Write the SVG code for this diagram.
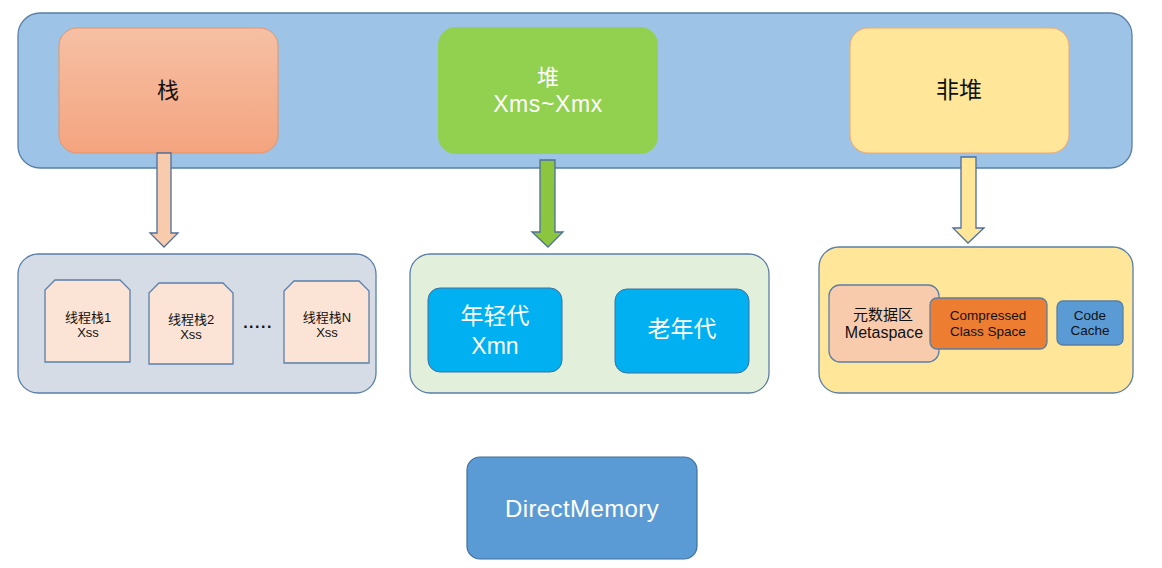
<svg xmlns="http://www.w3.org/2000/svg" width="1162" height="568" viewBox="0 0 1162 568">
<style>
text{font-family:"Liberation Sans","Noto Sans CJK SC",sans-serif;text-anchor:middle;dominant-baseline:central}
.cont{stroke:#5a7fa8;stroke-width:1.3}
.thr{fill:#fbe4d5;stroke:#5a7fa8;stroke-width:1.3}
.arr{stroke:#4e6f9c;stroke-width:1.3}
.w{fill:#ffffff}
.k{fill:#111111}
</style>
<defs>
<linearGradient id="gStack" x1="0" y1="0" x2="0" y2="1">
<stop offset="0" stop-color="#f6c0a4"/>
<stop offset="1" stop-color="#f4a47f"/>
</linearGradient>
</defs>
<rect width="1162" height="568" fill="#ffffff"/>
<g id="jvm">
<rect x="18" y="13" width="1114" height="155" rx="22" fill="#9dc3e6" class="cont"/>
</g>
<g id="stack">
<rect x="59" y="28" width="219" height="125" rx="18" fill="url(#gStack)" stroke="#e3956a" stroke-width="1"/>
<text x="168" y="90" font-size="22" class="k">栈</text>
</g>
<g id="heap">
<rect x="438" y="27" width="220" height="127" rx="18" fill="#92d050"/>
<text x="548" y="77" font-size="22" class="w">堆</text>
<text x="548" y="104" font-size="23" letter-spacing="0.6" class="w">Xms~Xmx</text>
</g>
<g id="nonheap">
<rect x="850" y="28" width="219" height="125" rx="18" fill="#ffe699" stroke="#f0a870" stroke-width="1"/>
<text x="959" y="90" font-size="23" class="k">非堆</text>
</g>
<g id="connectors">
<path class="arr" fill="#f8cbad" d="M157,153 H171 V233 H178 L164,247 L150,233 H157 Z"/>
<path class="arr" fill="#8cc63f" d="M540,160 H555 V232 H563 L548,247 L532,232 H540 Z"/>
<path class="arr" fill="#ffe699" d="M961,157 H976 V228 H984 L968,243 L953,228 H961 Z"/>
</g>
<g id="stackArea">
<rect x="18" y="254" width="358" height="139" rx="20" fill="#d5dce6" class="cont"/>
</g>
<g id="thread1">
<path class="thr" d="M55,280 H120 L130,290 V362 H45 V290 Z"/>
<text x="88" y="317" font-size="13" class="k">线程栈1</text>
<text x="88" y="332" font-size="13" class="k">Xss</text>
</g>
<g id="thread2">
<path class="thr" d="M159,283 H223 L233,293 V364 H149 V293 Z"/>
<text x="191" y="319" font-size="13" class="k">线程栈2</text>
<text x="191" y="334" font-size="13" class="k">Xss</text>
</g>
<g id="dots">
<text x="258" y="322" font-size="16" font-weight="bold" letter-spacing="1.5" class="k">.....</text>
</g>
<g id="threadN">
<path class="thr" d="M294,281 H359 L369,291 V363 H284 V291 Z"/>
<text x="327" y="317" font-size="13" class="k">线程栈N</text>
<text x="327" y="332" font-size="13" class="k">Xss</text>
</g>
<g id="heapArea">
<rect x="410" y="254" width="359" height="139" rx="20" fill="#e2efda" class="cont"/>
</g>
<g id="young">
<rect x="428" y="288" width="134" height="84" rx="12" fill="#00b0f0" stroke="#41719c" stroke-width="1"/>
<text x="495" y="316" font-size="23" class="w">年轻代</text>
<text x="495" y="346" font-size="23" class="w">Xmn</text>
</g>
<g id="old">
<rect x="615" y="289" width="134" height="84" rx="12" fill="#00b0f0" stroke="#41719c" stroke-width="1"/>
<text x="682" y="329" font-size="23" class="w">老年代</text>
</g>
<g id="nonheapArea">
<rect x="819" y="247" width="314" height="146" rx="20" fill="#ffe699" class="cont"/>
</g>
<g id="metaspace">
<rect x="829" y="285" width="110" height="77" rx="11" fill="#f8cbad" class="cont"/>
<text x="883" y="314" font-size="15" class="k">元数据区</text>
<text x="884" y="332" font-size="16" class="k">Metaspace</text>
</g>
<g id="compressed">
<rect x="930" y="298" width="117" height="51" rx="7" fill="#ed7d31" class="cont"/>
<text x="988" y="315" font-size="13.5" class="k">Compressed</text>
<text x="988" y="331" font-size="13.5" class="k">Class Space</text>
</g>
<g id="codecache">
<rect x="1057" y="301" width="66" height="44" rx="6" fill="#5b9bd5" class="cont"/>
<text x="1090" y="315" font-size="13.5" class="k">Code</text>
<text x="1090" y="330" font-size="13.5" class="k">Cache</text>
</g>
<g id="direct">
<rect x="467" y="457" width="230" height="102" rx="13" fill="#5b9bd5" stroke="#41719c" stroke-width="1.2"/>
<text x="582" y="508" font-size="24" letter-spacing="0.4" class="w">DirectMemory</text>
</g>
</svg>
